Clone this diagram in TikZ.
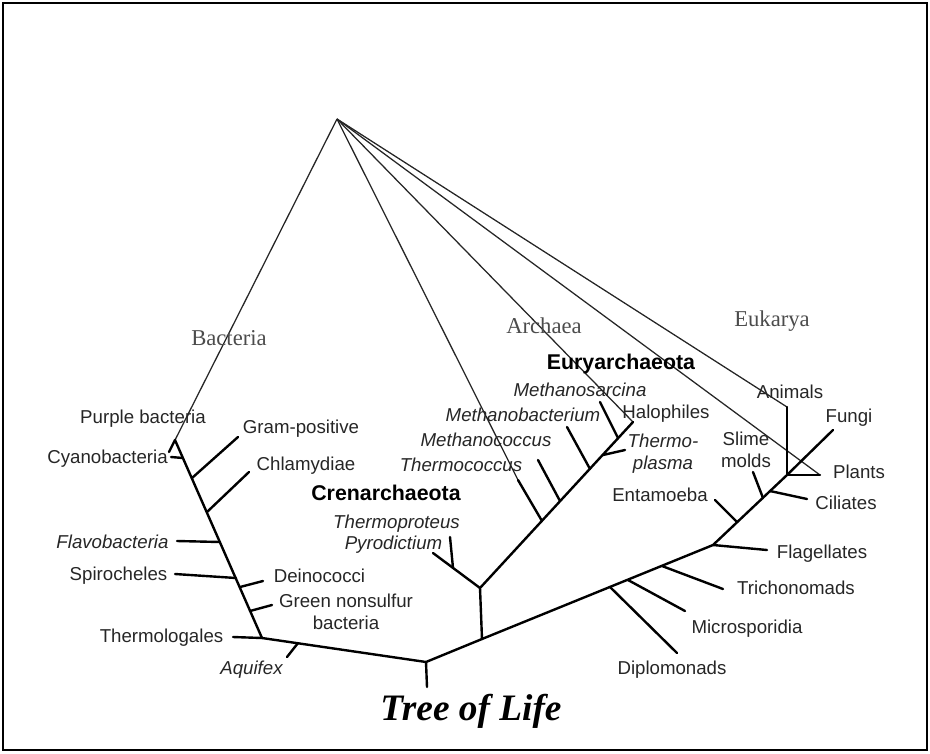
\documentclass[tikz,border=0pt]{standalone}
\usepackage{fontspec}
\setmainfont{Liberation Serif}
\setsansfont{Liberation Sans}
\usepackage{tikz}

\tikzset{
  ray/.style={line width=0.95pt,black!85},
  limb/.style={line width=1.8pt,line cap=round,line join=round},
  lab/.style={inner sep=0pt,text height=10pt,text depth=0pt,text=black!85,
    font=\sffamily\fontsize{14}{16.5}\selectfont},
  itlab/.style={lab,font=\sffamily\itshape\fontsize{14}{16.5}\selectfont},
  twolab/.style={inner sep=0pt,align=center,text=black!85,
    font=\sffamily\fontsize{14}{16.5}\selectfont},
  clade/.style={inner sep=0pt,text height=11.5pt,text depth=0pt,
    font=\sffamily\bfseries\fontsize{16}{18}\selectfont},
  realm/.style={inner sep=0pt,text height=11.3pt,text depth=0pt,text=black!70,
    font=\rmfamily\fontsize{17}{19}\selectfont},
}

\begin{document}
\begin{tikzpicture}[x=0.75pt,y=-0.75pt]
  \useasboundingbox (0,0) rectangle (930,753);
  \draw[line width=1.5pt] (3,3) rectangle (927,750);

  % junctions and tips
  \coordinate (apex) at (337,119);
  \coordinate (bTop) at (175,440);
  \coordinate (bPur) at (169,452);
  \coordinate (bEnd) at (262,638);
  \coordinate (root) at (426,662);
  \coordinate (rootStub) at (427,687);
  \coordinate (cyanoJ) at (183,458);   \coordinate (cyanoT) at (171,457);
  \coordinate (gramJ) at (192,478);    \coordinate (gramT) at (238,437);
  \coordinate (chlamJ) at (207,512);   \coordinate (chlamT) at (249,472);
  \coordinate (flavoJ) at (220,542);   \coordinate (flavoT) at (177,541);
  \coordinate (spiroJ) at (236,578);   \coordinate (spiroT) at (175,574);
  \coordinate (deinoJ) at (240,587);   \coordinate (deinoT) at (263,581);
  \coordinate (greenJ) at (250,611);   \coordinate (greenT) at (272,605);
  \coordinate (thermoT) at (233,637);
  \coordinate (aquiJ) at (298,643);    \coordinate (aquiT) at (287,657);

  \coordinate (aBase) at (482,639);
  \coordinate (aJ) at (480,588);
  \coordinate (crenT) at (433,553);
  \coordinate (crenJ) at (453,568);    \coordinate (tprotT) at (450,537);
  \coordinate (euryT) at (633,422);
  \coordinate (tcocJ) at (542,521);    \coordinate (tcocT) at (518,480);
  \coordinate (mcocJ) at (560,501);    \coordinate (mcocT) at (538,460);
  \coordinate (mbacJ) at (590,469);    \coordinate (mbacT) at (567,427);
  \coordinate (tplaJ) at (603,455);    \coordinate (tplaT) at (625,450);
  \coordinate (msarJ) at (618,438);    \coordinate (msarT) at (600,402);

  \coordinate (eBase) at (713,545);
  \coordinate (eTop) at (787,475);
  \coordinate (diploJ) at (610,587);   \coordinate (diploT) at (677,653);
  \coordinate (microJ) at (628,580);   \coordinate (microT) at (685,611);
  \coordinate (trichoJ) at (662,566);  \coordinate (trichoT) at (723,589);
  \coordinate (flagT) at (767,550);
  \coordinate (entJ) at (737,522);     \coordinate (entT) at (715,500);
  \coordinate (slimeJ) at (763,498);   \coordinate (slimeT) at (753,472);
  \coordinate (cilJ) at (770,491);     \coordinate (cilT) at (807,499);
  \coordinate (animT) at (787,407);
  \coordinate (fungT) at (833,430);
  \coordinate (plantT) at (820,475);

  % lines from the top
  \foreach \t in {bPur,tcocT,euryT,animT,plantT}
    \draw[ray] (apex) -- (\t);

  % the tree
  \draw[limb] (bPur) -- (bTop) -- (bEnd) -- (root) -- (aBase) -- (eBase) -- (eTop);
  \draw[limb] (bEnd) -- (thermoT);
  \draw[limb] (root) -- (rootStub);
  \draw[limb] (aBase) -- (aJ) -- (euryT);
  \draw[limb] (aJ) -- (crenT);
  \draw[limb] (eTop) -- (animT);
  \draw[limb] (eTop) -- (fungT);
  \draw[limb] (eTop) -- (plantT);
  \foreach \j/\t in {cyanoJ/cyanoT,gramJ/gramT,chlamJ/chlamT,flavoJ/flavoT,
      spiroJ/spiroT,deinoJ/deinoT,greenJ/greenT,aquiJ/aquiT,crenJ/tprotT,
      tcocJ/tcocT,mcocJ/mcocT,mbacJ/mbacT,tplaJ/tplaT,msarJ/msarT,
      diploJ/diploT,microJ/microT,trichoJ/trichoT,eBase/flagT,entJ/entT,
      slimeJ/slimeT,cilJ/cilT}
    \draw[limb] (\j) -- (\t);

  % domains
  \node[realm] (bact) at (229,338) {Bacteria};
  \node[realm] (arch) at (544,326) {Archaea};
  \node[realm] (euk) at (772,319) {Eukarya};

  % bacteria
  \node[lab] (purple) at (143,417) {Purple bacteria};
  \node[lab] (cyano) at (107.5,457) {Cyanobacteria};
  \node[lab] (gram) at (301,427) {Gram-positive};
  \node[lab] (chlam) at (306,464) {Chlamydiae};
  \node[itlab] (flavo) at (112.5,542) {Flavobacteria};
  \node[lab] (spiro) at (118.5,574) {Spirocheles};
  \node[lab] (deino) at (319.5,576) {Deinococci};
  \node[twolab] (green) at (346,612) {Green nonsulfur\\bacteria};
  \node[lab] (thermolog) at (161.5,636) {Thermologales};
  \node[itlab] (aquifex) at (251.5,668) {Aquifex};

  % archaea
  \node[clade] (cren) at (386,493) {Crenarchaeota};
  \node[itlab] (tproteus) at (396.5,522) {Thermoproteus};
  \node[itlab] (pyro) at (393.5,543) {Pyrodictium};
  \node[clade] (eury) at (621,362) {Euryarchaeota};
  \node[itlab] (msar) at (580,390) {Methanosarcina};
  \node[itlab] (mbac) at (523,415) {Methanobacterium};
  \node[itlab] (mcoc) at (486,440) {Methanococcus};
  \node[itlab] (tcoc) at (461,465) {Thermococcus};
  \node[lab] (halo) at (666,412) {Halophiles};
  \node[twolab,font=\sffamily\itshape\fontsize{14}{16.5}\selectfont] (tpla) at (663,454) {Thermo-\\plasma};

  % eukarya
  \node[lab] (animals) at (790,392) {Animals};
  \node[lab] (fungi) at (849,416) {Fungi};
  \node[twolab] (slime) at (746,450) {Slime\\molds};
  \node[lab] (plants) at (859,472) {Plants};
  \node[lab] (entam) at (660,495) {Entamoeba};
  \node[lab] (ciliates) at (846,503) {Ciliates};
  \node[lab] (flag) at (822,552) {Flagellates};
  \node[lab] (tricho) at (796,588) {Trichonomads};
  \node[lab] (micro) at (747,627) {Microsporidia};
  \node[lab] (diplo) at (672,668) {Diplomonads};

  \node[anchor=base,inner sep=0pt,font=\rmfamily\bfseries\itshape\fontsize{28}{30}\selectfont]
    (title) at (471,720) {Tree of Life};
\end{tikzpicture}
\end{document}
